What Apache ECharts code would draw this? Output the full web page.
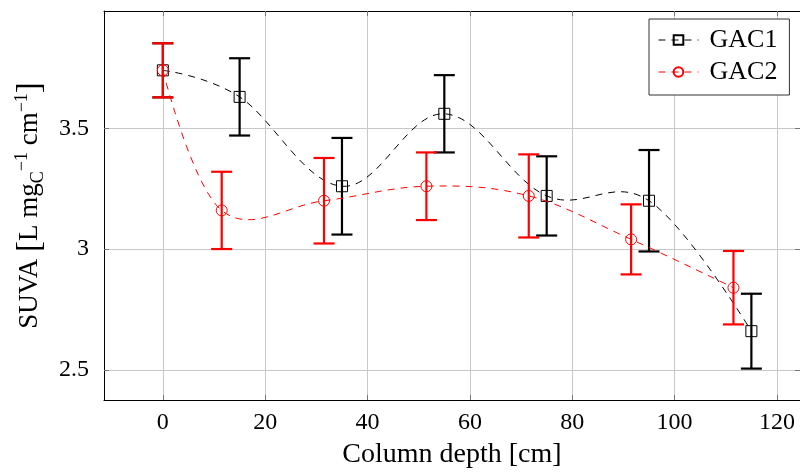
<!DOCTYPE html>
<html><head><meta charset="utf-8">
<script src="https://cdn.jsdelivr.net/npm/echarts@6/dist/echarts.min.js"></script>
<style>html,body{margin:0;padding:0;background:#fff}#c{width:800px;height:474px}</style>
</head><body><div id="c"></div>
<script>
const gac1X = [0, 15, 35, 55, 75, 95, 115];
const gac1Y = [3.74, 3.63, 3.26, 3.56, 3.22, 3.20, 2.66];
const gac1Err = [0.112, 0.16, 0.20, 0.16, 0.164, 0.21, 0.155];
const gac2X = [0, 11.5, 31.5, 51.5, 71.5, 91.5, 111.5];
const gac2Y = [3.74, 3.16, 3.20, 3.26, 3.22, 3.04, 2.84];
const gac2Err = [0.112, 0.16, 0.177, 0.14, 0.172, 0.145, 0.152];
const xTicks = [0, 20, 40, 60, 80, 100, 120];
const yTicks = [2.5, 3, 3.5];

const FONT = 'Liberation Serif';
const DASH = [7, 6];
const TENSION = 0.55;
const chart = echarts.init(document.getElementById('c'), null, {renderer: 'canvas'});

function pts(xs, ys) { return xs.map((x, i) => [x, ys[i]]); }
function errs(xs, ys, es) { return xs.map((x, i) => [x, ys[i] - es[i], ys[i] + es[i]]); }
function errRender(color) {
  return function (params, api) {
    const x = api.value(0);
    const lo = api.coord([x, api.value(1)]);
    const hi = api.coord([x, api.value(2)]);
    const w = 10.5;
    const st = {stroke: color, lineWidth: 2.2};
    return {type: 'group', children: [
      {type: 'line', shape: {x1: lo[0], y1: lo[1], x2: hi[0], y2: hi[1]}, style: st},
      {type: 'line', shape: {x1: lo[0] - w, y1: lo[1], x2: lo[0] + w, y2: lo[1]}, style: st},
      {type: 'line', shape: {x1: hi[0] - w, y1: hi[1], x2: hi[0] + w, y2: hi[1]}, style: st}
    ]};
  };
}
// pgfplots-like "smooth" curve (cardinal spline) through the data, via the axis scales
function smoothRender(xs, ys, color) {
  return function (params, api) {
    if (params.dataIndex !== 0) return null;
    const p = xs.map((x, i) => api.coord([x, ys[i]]));
    const f = TENSION / 3;
    const n = p.length;
    const tan = p.map((pt, i) => {
      if (i === 0 || i === n - 1) return [0, 0];
      return [f * (p[i + 1][0] - p[i - 1][0]), f * (p[i + 1][1] - p[i - 1][1])];
    });
    let d = 'M' + p[0][0] + ' ' + p[0][1];
    for (let i = 0; i < n - 1; i++) {
      const c1 = [p[i][0] + tan[i][0], p[i][1] + tan[i][1]];
      const c2 = [p[i + 1][0] - tan[i + 1][0], p[i + 1][1] - tan[i + 1][1]];
      d += ' C' + c1[0] + ' ' + c1[1] + ' ' + c2[0] + ' ' + c2[1] + ' ' + p[i + 1][0] + ' ' + p[i + 1][1];
    }
    return {type: 'path', shape: {pathData: d},
      style: {fill: null, stroke: color, lineWidth: 1, lineDash: DASH}};
  };
}

const xAxisBase = {
  type: 'value', min: -11.5, max: 124.5,
  axisLine: {show: true, onZero: false, lineStyle: {color: '#000', width: 1}},
  axisTick: {show: true, inside: true, length: 5, customValues: xTicks, lineStyle: {color: '#777'}},
  splitLine: {show: true, lineStyle: {color: '#c8c8c8', width: 1}},
};
const yAxisBase = {
  type: 'value', min: 2.375, max: 3.9856,
  axisLine: {show: true, onZero: false, lineStyle: {color: '#000', width: 1}},
  axisTick: {show: true, inside: true, length: 5, customValues: yTicks, lineStyle: {color: '#777'}},
  splitLine: {show: true, lineStyle: {color: '#c8c8c8', width: 1}},
};

chart.setOption({
  animation: false,
  grid: {left: 104, right: 0, top: 11, bottom: 71, containLabel: false},
  xAxis: [
    Object.assign({}, xAxisBase, {
      position: 'bottom',
      axisLabel: {customValues: xTicks, fontFamily: FONT, fontSize: 24, color: '#000', margin: 11},
      name: 'Column depth [cm]', nameLocation: 'middle', nameGap: 41,
      nameTextStyle: {fontFamily: FONT, fontSize: 28, color: '#000'}
    }),
    Object.assign({}, xAxisBase, {position: 'top', axisLabel: {show: false}, splitLine: {show: false}})
  ],
  yAxis: [
    Object.assign({}, yAxisBase, {
      position: 'left',
      axisLabel: {customValues: yTicks, fontFamily: FONT, fontSize: 24, color: '#000', margin: 15,
        formatter: v => String(v)},
      name: 'SUVA {br|[}L mg{sub|C}{sup|−1} cm{sup|−1}{br|]}', nameLocation: 'middle', nameGap: 57,
      nameRotate: 90,
      nameTextStyle: {fontFamily: FONT, fontSize: 27, color: '#000', lineHeight: 34,
        rich: {
          br: {fontFamily: FONT, fontSize: 33, color: '#000', lineHeight: 34},
          sub: {fontFamily: FONT, fontSize: 18, color: '#000', verticalAlign: 'bottom', lineHeight: 18},
          sup: {fontFamily: FONT, fontSize: 18, color: '#000', verticalAlign: 'top', lineHeight: 18}
        }}
    }),
    Object.assign({}, yAxisBase, {position: 'right', axisLabel: {show: false}, splitLine: {show: false}})
  ],
  legend: {
    orient: 'vertical', left: 649, top: 19,
    padding: [8, 12, 10, 9], itemGap: 6, itemWidth: 40, itemHeight: 12,
    backgroundColor: '#fff', borderColor: '#333', borderWidth: 1, borderRadius: 0,
    textStyle: {fontFamily: FONT, fontSize: 26, color: '#000', padding: [0, 0, 0, 6]},
    data: [
      {name: 'GAC1', lineStyle: {color: '#000', width: 1, type: DASH, opacity: 1}},
      {name: 'GAC2', lineStyle: {color: '#f00', width: 1, type: DASH, opacity: 1}}
    ]
  },
  series: [
    {
      name: 'GAC1', type: 'line', data: pts(gac1X, gac1Y),
      symbol: 'rect', symbolSize: 11, z: 2, color: '#000',
      lineStyle: {color: '#000', width: 1, type: DASH, opacity: 0},
      itemStyle: {color: 'rgba(255,255,255,0)', borderColor: '#000', borderWidth: 1}
    },
    {
      name: 'GAC2', type: 'line', data: pts(gac2X, gac2Y),
      symbol: 'circle', symbolSize: 11, z: 5, color: '#f00',
      lineStyle: {color: '#f00', width: 1, type: DASH, opacity: 0},
      itemStyle: {color: 'rgba(255,255,255,0)', borderColor: '#f00', borderWidth: 1}
    },
    {
      name: 'GAC1', type: 'custom', data: pts(gac1X, gac1Y), z: 1, clip: true, color: '#000',
      encode: {x: 0, y: 1}, renderItem: smoothRender(gac1X, gac1Y, '#000')
    },
    {
      name: 'GAC1', type: 'custom', data: errs(gac1X, gac1Y, gac1Err), z: 3, color: '#000',
      encode: {x: 0, y: [1, 2]}, renderItem: errRender('#000')
    },
    {
      name: 'GAC2', type: 'custom', data: pts(gac2X, gac2Y), z: 4, clip: true, color: '#f00',
      encode: {x: 0, y: 1}, renderItem: smoothRender(gac2X, gac2Y, '#f00')
    },
    {
      name: 'GAC2', type: 'custom', data: errs(gac2X, gac2Y, gac2Err), z: 6, color: '#f00',
      encode: {x: 0, y: [1, 2]}, renderItem: errRender('#f00')
    }
  ]
});
</script></body></html>
